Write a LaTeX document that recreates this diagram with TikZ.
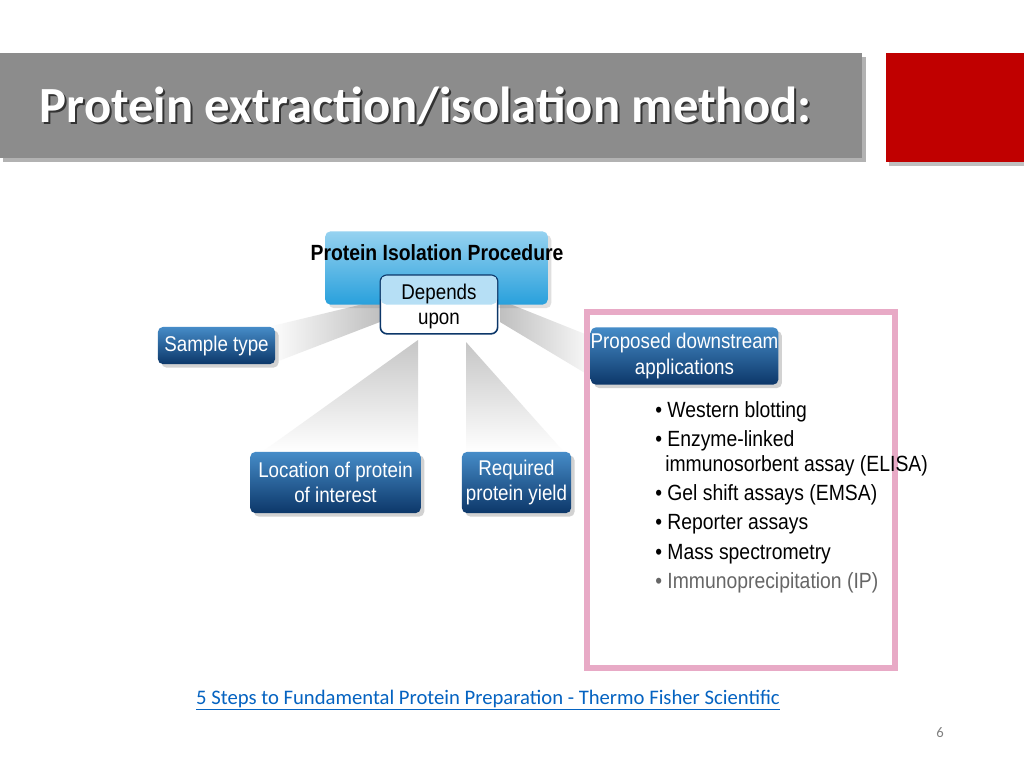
\documentclass[tikz,border=0pt]{standalone}
\usepackage{fontspec}
\setmainfont{Liberation Sans}[FakeStretch=0.88]
\newfontfamily\slidefont{Carlito}
\usetikzlibrary{positioning}
\usetikzlibrary{shadows}
\definecolor{boxtop}{RGB}{70,140,200}
\definecolor{boxbot}{RGB}{12,55,105}
\definecolor{headtop}{RGB}{150,210,240}
\definecolor{headbot}{RGB}{40,160,220}
\definecolor{framepink}{RGB}{232,170,198}
\definecolor{slidered}{RGB}{192,0,0}
\definecolor{linkblue}{RGB}{5,99,193}
\definecolor{bargray}{RGB}{140,140,140}

\begin{document}
\begin{tikzpicture}[
  x=0.75pt, y=-0.75pt,
  font=\fontsize{16}{19}\selectfont,
  appbox/.style={rounded corners=4pt, top color=boxtop, bottom color=boxbot,
    text=white, align=center, inner sep=0pt, drop shadow={opacity=0.35}},
  wedge/.style={left color=gray!45, right color=white, draw=none},
  bullet/.style={anchor=west, inner sep=0pt, font=\fontsize{16.5}{19}\selectfont}
]
\useasboundingbox (0,0) rectangle (1024,768);
\fill[white] (0,0) rectangle (1024,768);

% Title bar
\fill[black!30] (3,57) rectangle (866,162);
\fill[bargray] (0,53) rectangle (862,158);
\fill[black!25] (889,57) rectangle (1024,166);
\fill[slidered] (886,53) rectangle (1024,162);
\node[anchor=base west, text=black!80, font=\slidefont\bfseries\fontsize{38}{44}\selectfont]
  at (37,124) {Protein extraction/isolation method:};
\node[anchor=base west, text=white, font=\slidefont\bfseries\fontsize{38}{44}\selectfont]
  (title) at (35,122) {Protein extraction/isolation method:};

% Wedges
\shade[wedge, left color=white, right color=gray!50] (268,327) -- (380,300) -- (380,322) -- (268,365) -- cycle;
\shade[wedge, bottom color=white, top color=gray!45] (418,340) -- (418,452) -- (262,452) -- cycle;
\shade[wedge, bottom color=white, top color=gray!45] (466,342) -- (466,452) -- (564,452) -- cycle;
\shade[wedge, left color=gray!50, right color=white] (500,300) -- (600,340) -- (600,382) -- (500,322) -- cycle;

% Pink frame
\draw[framepink, line width=4pt] (587,312) rectangle (895,668);

% Main heading box
\node[rounded corners=4pt, top color=headtop, bottom color=headbot, minimum width=167pt,
  minimum height=55pt, drop shadow={opacity=0.25}] (proc) at (436.5,268) {};
\node[font=\fontsize{16.5}{19}\selectfont\bfseries, anchor=base] (proctxt) at (437,260) {Protein Isolation Procedure};

% Depends upon
\node[draw=boxbot, line width=1.2pt, rounded corners=5pt, fill=white,
  minimum width=88pt, minimum height=44pt] (dep) at (439,304.5) {};
\fill[headtop!70, rounded corners=4pt] ([shift={(1pt,-1pt)}]dep.north west) rectangle ([shift={(-1pt,0)}]dep.east);
\node[anchor=base] (deptxt) at (439,299) {Depends};
\node[anchor=base] (uptxt) at (439,324) {upon};

% Factor boxes
\node[appbox, minimum width=88pt, minimum height=28pt] (sample) at (216.5,345.5) {Sample type};
\node[appbox, minimum width=128pt, minimum height=46pt] (location) at (335.5,482.5) {Location of protein\\of interest};
\node[appbox, minimum width=82pt, minimum height=46pt] (yield) at (516.5,482.5) {Required\\protein yield};
\node[appbox, minimum width=131pt, minimum height=43pt] (downstream) at (684.5,356) {Proposed downstream\\applications};

% Applications list
\node[bullet] (b1) at (655,412) {\textbullet\ Western blotting};
\node[bullet] (b2) at (655,441) {\textbullet\ Enzyme-linked};
\node[bullet] (b2b) at (665,466) {immunosorbent assay (ELISA)};
\node[bullet] (b3) at (655,495) {\textbullet\ Gel shift assays (EMSA)};
\node[bullet] (b4) at (655,524) {\textbullet\ Reporter assays};
\node[bullet] (b5) at (655,554) {\textbullet\ Mass spectrometry};
\node[bullet, text=black!60] (b6) at (655,583) {\textbullet\ Immunoprecipitation (IP)};

% Source link and page number
\node[text=linkblue, font=\slidefont\fontsize{15.5}{18}\selectfont] (link) at (488,700)
  {\underline{5 Steps to Fundamental Protein Preparation - Thermo Fisher Scientific}};
\node[text=gray, font=\slidefont\fontsize{11}{13}\selectfont] (page) at (940,733) {6};
\end{tikzpicture}
\end{document}
